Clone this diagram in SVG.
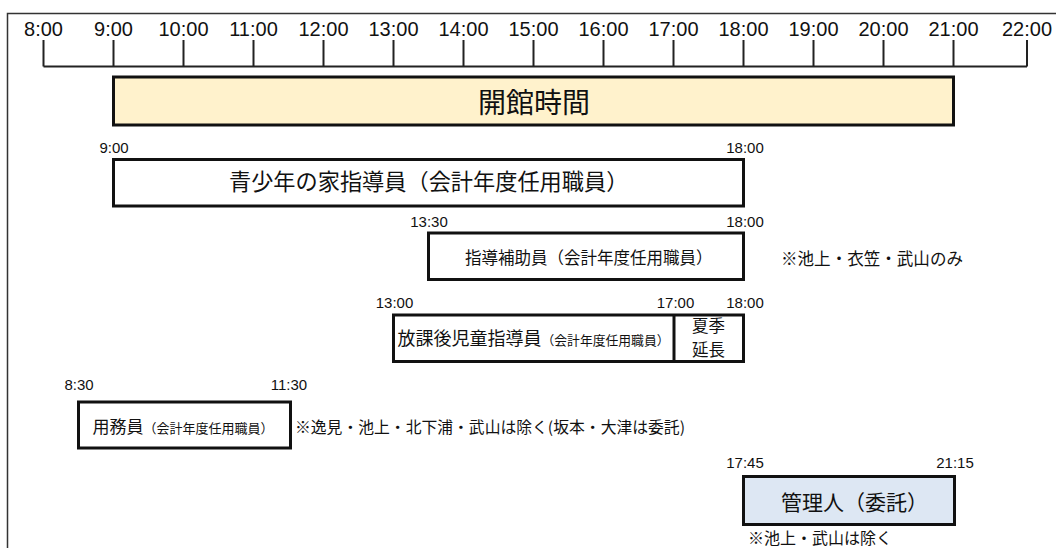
<svg xmlns="http://www.w3.org/2000/svg" width="1056" height="548" viewBox="0 0 1056 548">
<style>
.num{font-family:"Liberation Sans",Arial,sans-serif;fill:#111}
.ax{font-size:20px;text-anchor:middle}
.tl{font-size:15px;text-anchor:middle}
.jp{font-family:"Noto Sans CJK JP","Noto Sans CJK SC",sans-serif;fill:#111}
.bar{fill:#fff;stroke:#111;stroke-width:3}
.axl{stroke:#222;stroke-width:2;fill:none}
</style>
<rect width="1056" height="548" fill="#fff"/>
<path d="M7.5 548 V13.5 H1056" fill="none" stroke="#333" stroke-width="1.5"/>
<g id="axis">
<path class="axl" d="M43.5 66.5 H1027 M43.5 40 V66.5 M113.5 40 V66.5 M183.5 40 V66.5 M253.5 40 V66.5 M323.5 40 V66.5 M393.5 40 V66.5 M463.5 40 V66.5 M533.5 40 V66.5 M603.5 40 V66.5 M673.5 40 V66.5 M743.5 40 V66.5 M813.5 40 V66.5 M883.5 40 V66.5 M953.5 40 V66.5 M1027 40 V66.5"/>
<g class="num ax">
<text x="43.5" y="35.5">8:00</text>
<text x="113.5" y="35.5">9:00</text>
<text x="183.5" y="35.5">10:00</text>
<text x="253.5" y="35.5">11:00</text>
<text x="323.5" y="35.5">12:00</text>
<text x="393.5" y="35.5">13:00</text>
<text x="463.5" y="35.5">14:00</text>
<text x="533.5" y="35.5">15:00</text>
<text x="603.5" y="35.5">16:00</text>
<text x="673.5" y="35.5">17:00</text>
<text x="743.5" y="35.5">18:00</text>
<text x="813.5" y="35.5">19:00</text>
<text x="883.5" y="35.5">20:00</text>
<text x="953.5" y="35.5">21:00</text>
<text x="1027" y="35.5">22:00</text>
</g>
</g>
<g id="kaikan">
<rect x="113.5" y="77" width="840" height="48" fill="#fff2cc" stroke="#111" stroke-width="3"/>
<text class="jp" x="534" y="113" font-size="28" text-anchor="middle">開館時間</text>
</g>
<g id="seishonen">
<text class="num tl" x="114" y="152.5">9:00</text>
<text class="num tl" x="745" y="152.5">18:00</text>
<rect class="bar" x="113.5" y="159.5" width="630" height="46.5"/>
<text class="jp" x="229" y="190" font-size="22.2">青少年の家指導員（会計年度任用職員）</text>
</g>
<g id="hojo">
<text class="num tl" x="429" y="226.5">13:30</text>
<text class="num tl" x="745" y="226.5">18:00</text>
<rect class="bar" x="428.5" y="233" width="315" height="46.5"/>
<text class="jp" x="465" y="264" font-size="16.5">指導補助員（会計年度任用職員）</text>
<text class="jp" x="781" y="265" font-size="17" textLength="182" lengthAdjust="spacingAndGlyphs">※池上・衣笠・武山のみ</text>
</g>
<g id="houkago">
<text class="num tl" x="394.5" y="308">13:00</text>
<text class="num tl" x="675.5" y="308">17:00</text>
<text class="num tl" x="745" y="308">18:00</text>
<rect class="bar" x="393.5" y="315" width="350" height="46.5"/>
<line x1="674" y1="315" x2="674" y2="361.5" stroke="#111" stroke-width="3"/>
<text class="jp" x="397.5" y="345" font-size="18">放課後児童指導員<tspan font-size="12.8">（会計年度任用職員）</tspan></text>
<text class="jp" x="708.5" y="331.5" font-size="16.5" text-anchor="middle">夏季</text>
<text class="jp" x="708.5" y="356" font-size="16.5" text-anchor="middle">延長</text>
</g>
<g id="yomu">
<text class="num tl" x="79" y="390">8:30</text>
<text class="num tl" x="289" y="390">11:30</text>
<rect class="bar" x="78.5" y="402" width="212" height="46"/>
<text class="jp" x="92.5" y="433" font-size="17">用務員<tspan font-size="13">（会計年度任用職員）</tspan></text>
<text class="jp" x="295" y="433" font-size="15.5" textLength="390" lengthAdjust="spacingAndGlyphs">※逸見・池上・北下浦・武山は除く(坂本・大津は委託)</text>
</g>
<g id="kanri">
<text class="num tl" x="745" y="468">17:45</text>
<text class="num tl" x="955" y="468">21:15</text>
<rect x="743.5" y="476.5" width="211" height="48" fill="#dde7f3" stroke="#111" stroke-width="3"/>
<text class="jp" x="781" y="510" font-size="21">管理人（委託）</text>
<text class="jp" x="748" y="544" font-size="16">※池上・武山は除く</text>
</g>
</svg>
